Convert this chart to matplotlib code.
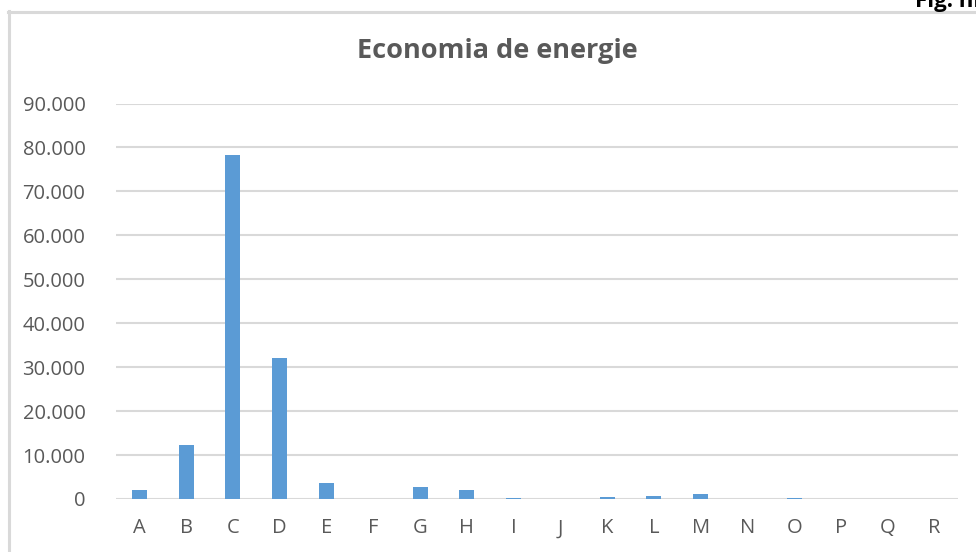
import matplotlib
matplotlib.use("Agg")
import matplotlib.pyplot as plt
from matplotlib.lines import Line2D

categories = ["A", "B", "C", "D", "E", "F", "G", "H", "I", "J", "K", "L", "M", "N", "O", "P", "Q", "R"]
values = [2000, 12300, 78300, 32000, 3700, 100, 2700, 2000, 200, 100, 400, 600, 1200, 100, 200, 50, 50, 50]
yticks = [0, 10000, 20000, 30000, 40000, 50000, 60000, 70000, 80000, 90000]
ytick_labels = ["0", "10.000", "20.000", "30.000", "40.000", "50.000", "60.000", "70.000", "80.000", "90.000"]
title = "Economia de energie"

W, H = 976, 552
fig = plt.figure(figsize=(W / 100, H / 100), dpi=100)
fig.patch.set_facecolor("white")

left, right, top, bottom = 116, 958, 103.5, 499
ax = fig.add_axes([left / W, 1 - bottom / H, (right - left) / W, (bottom - top) / H])

x = list(range(len(categories)))
ax.bar(x, values, width=0.32, color="#5B9BD5", zorder=3)
ax.set_xlim(-0.5, len(categories) - 0.5)
ax.set_ylim(0, 90000)
ax.set_yticks(yticks)
ax.set_yticklabels(ytick_labels)
ax.set_xticks(x)
ax.set_xticklabels(categories)
ax.grid(axis="y", color="#d9d9d9", linewidth=1.5, zorder=0)
for s in ax.spines.values():
    s.set_visible(False)
ax.tick_params(axis="both", length=0, labelcolor="#595959", labelsize=14.5)
ax.tick_params(axis="y", pad=22)
ax.tick_params(axis="x", pad=14)
for lab in ax.get_xticklabels() + ax.get_yticklabels():
    lab.set_fontfamily("Open Sans")

fig.text(497 / W, 1 - 51 / H, title, ha="center", va="center",
         fontsize=19.5, fontweight="bold", color="#595959", fontfamily="Open Sans")

# chart border
fig.add_artist(Line2D([9 / W, 9 / W], [1 - 11 / H, -0.05], color="#d9d9d9", linewidth=2.2,
                      transform=fig.transFigure))
fig.add_artist(Line2D([8 / W, 1.05], [1 - 11.5 / H, 1 - 11.5 / H], color="#d9d9d9", linewidth=2.2,
                      transform=fig.transFigure))

fig.text(915 / W, 1 - 7 / H, "Fig. nb", ha="left", va="baseline",
         fontsize=16, fontweight="bold", color="black", fontfamily="Open Sans")

fig.savefig("out.png", dpi=100)
